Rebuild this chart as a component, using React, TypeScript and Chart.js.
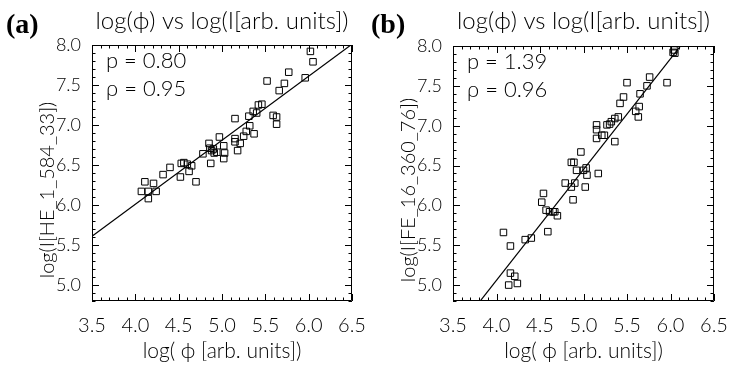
import React, { useEffect, useRef } from "react";
import { Chart, registerables } from "chart.js";

Chart.register(...registerables);

// ---- axes ----
const xRange = [3.5, 6.5];
const yRange = [4.8, 8.0];
const xTickLabels = [3.5, 4.0, 4.5, 5.0, 5.5, 6.0, 6.5];
const yTickLabels = [5.0, 5.5, 6.0, 6.5, 7.0, 7.5, 8.0];

// ---- panel (a): HE_1_584_33 ----
const heX = [4.07, 4.11, 4.15, 4.15, 4.21, 4.24, 4.32, 4.40, 4.52, 4.53, 4.56, 4.60, 4.62, 4.65, 4.70, 4.78, 4.85, 4.86, 4.87, 4.88, 4.90, 4.91, 4.94, 4.97, 5.02, 5.03, 5.02, 5.15, 5.15, 5.18, 5.21, 5.25, 5.28, 5.31, 5.32, 5.37, 5.15, 5.36, 5.40, 5.42, 5.46, 5.52, 5.59, 5.63, 5.63, 5.66, 5.72, 5.77, 5.96, 6.02, 6.05];
const heY = [6.17, 6.29, 6.17, 6.08, 6.27, 6.17, 6.38, 6.47, 6.35, 6.52, 6.53, 6.51, 6.42, 6.49, 6.29, 6.64, 6.77, 6.71, 6.52, 6.68, 6.70, 6.65, 6.66, 6.85, 6.74, 6.65, 6.58, 6.83, 6.79, 6.68, 6.77, 6.86, 6.92, 7.11, 6.99, 6.89, 7.08, 7.17, 7.15, 7.25, 7.26, 7.55, 7.12, 7.10, 7.01, 7.43, 7.52, 7.66, 7.59, 7.92, 7.79];
const heSlope = 0.80;
const heIntercept = 2.81;
const heP = "0.80";
const heRho = "0.95";

// ---- panel (b): FE_16_360_76 ----
const feX = [4.08, 4.16, 4.16, 4.21, 4.14, 4.24, 4.33, 4.40, 4.52, 4.54, 4.57, 4.61, 4.65, 4.67, 4.70, 4.59, 4.79, 4.86, 4.88, 4.90, 5.02, 4.86, 4.89, 4.92, 5.00, 5.03, 5.04, 5.17, 4.97, 5.15, 5.15, 5.15, 5.21, 5.24, 5.27, 5.30, 5.32, 5.36, 5.40, 5.36, 5.42, 5.46, 5.50, 5.60, 5.63, 5.64, 5.65, 5.73, 5.76, 5.96, 6.03, 6.05, 6.04];
const feY = [5.66, 5.49, 5.15, 5.11, 5.00, 5.02, 5.57, 5.59, 6.04, 6.15, 5.94, 5.92, 5.92, 5.92, 5.87, 5.67, 6.28, 6.23, 6.07, 6.28, 6.23, 6.54, 6.54, 6.44, 6.44, 6.47, 6.38, 6.40, 6.67, 7.01, 6.95, 6.84, 6.88, 6.88, 7.01, 7.02, 7.05, 7.09, 7.11, 6.80, 7.28, 7.36, 7.54, 7.18, 7.11, 7.24, 7.40, 7.50, 7.61, 7.54, 7.92, 7.91, 7.95];
const feSlope = 1.39;
const feIntercept = -0.50;
const feP = "1.39";
const feRho = "0.96";

const FONT = "Lato, 'DejaVu Sans', sans-serif";

type PanelProps = {
  left: number;
  width: number;
  label: string;
  yTitle: string;
  xs: number[];
  ys: number[];
  slope: number;
  intercept: number;
  pText: string;
  rhoText: string;
  areaLeft: number;
  areaRight: number;
  areaTop: number;
  areaBottom: number;
  yTitleX: number;
};

function Panel(props: PanelProps) {
  const ref = useRef<HTMLCanvasElement | null>(null);
  useEffect(() => {
    const canvas = ref.current;
    if (!canvas) return;
    const H = 367;
    const deco = {
      id: "idlFrame",
      afterDatasetsDraw(chart: any) {
        const { ctx, chartArea: a, scales } = chart;
        const sx = scales.x;
        const sy = scales.y;
        ctx.save();
        ctx.strokeStyle = "#000";
        ctx.lineWidth = 1;
        ctx.beginPath();
        ctx.rect(Math.round(a.left) + 0.5, Math.round(a.top) + 0.5, Math.round(a.right - a.left) - 1, Math.round(a.bottom - a.top) - 1);
        ctx.stroke();
        ctx.beginPath();
        for (let k = Math.round(xRange[0] * 10); k <= Math.round(xRange[1] * 10); k++) {
          const px = Math.round(sx.getPixelForValue(k / 10)) + 0.5;
          const len = k % 5 === 0 ? 7 : 3.5;
          ctx.moveTo(px, a.bottom);
          ctx.lineTo(px, a.bottom - len);
          ctx.moveTo(px, a.top);
          ctx.lineTo(px, a.top + len);
        }
        for (let k = Math.round(yRange[0] * 10); k <= Math.round(yRange[1] * 10); k++) {
          const py = Math.round(sy.getPixelForValue(k / 10)) + 0.5;
          const len = k % 5 === 0 ? 7 : 3.5;
          ctx.moveTo(a.left, py);
          ctx.lineTo(a.left + len, py);
          ctx.moveTo(a.right, py);
          ctx.lineTo(a.right - len, py);
        }
        ctx.stroke();
        ctx.fillStyle = "#000";
        // panel label
        ctx.font = "bold 28px 'Liberation Serif', 'Times New Roman', serif";
        ctx.textAlign = "left";
        ctx.textBaseline = "alphabetic";
        ctx.fillText(props.label, 6, 33);
        // title
        ctx.font = `300 24px ${FONT}`;
        ctx.textAlign = "center";
        ctx.fillText("log(\u03D5) vs log(I[arb. units])", (a.left + a.right) / 2, 29);
        // annotation
        ctx.font = `300 22px ${FONT}`;
        ctx.textAlign = "left";
        ctx.fillText("p = " + props.pText, a.left + 14, a.top + 23);
        ctx.fillText("\u03C1 = " + props.rhoText, a.left + 14, a.top + 51);
        // y-axis title
        ctx.save();
        ctx.translate(props.yTitleX, 190);
        ctx.rotate(-Math.PI / 2);
        ctx.font = `300 20px ${FONT}`;
        ctx.textAlign = "center";
        ctx.textBaseline = "middle";
        ctx.fillText(props.yTitle, 0, 0);
        ctx.restore();
        ctx.restore();
      },
    };
    const chart = new Chart(canvas, {
      type: "scatter",
      data: {
        datasets: [
          {
            type: "scatter",
            data: props.xs.map((x, i) => ({ x, y: props.ys[i] })),
            pointStyle: "rect",
            pointRadius: 4.6,
            borderColor: "#000",
            borderWidth: 1,
            backgroundColor: "rgba(0,0,0,0)",
          },
          {
            type: "line",
            data: xRange.map((x) => ({ x, y: props.intercept + props.slope * x })),
            borderColor: "#000",
            borderWidth: 1.2,
            pointRadius: 0,
            fill: false,
            tension: 0,
          },
        ],
      } as any,
      options: {
        responsive: false,
        animation: false,
        events: [],
        layout: {
          padding: { left: 0, top: props.areaTop, right: props.width - props.areaRight, bottom: 0 },
        },
        plugins: { legend: { display: false }, tooltip: { enabled: false }, title: { display: false } },
        scales: {
          x: {
            type: "linear",
            min: xRange[0],
            max: xRange[1],
            grid: { display: false },
            border: { display: false },
            afterBuildTicks: (s: any) => {
              s.ticks = xTickLabels.map((v) => ({ value: v }));
            },
            afterFit: (s: any) => {
              s.height = H - props.areaBottom;
              s.paddingLeft = 0;
              s.paddingRight = 0;
            },
            ticks: {
              color: "#000",
              padding: 5,
              maxRotation: 0,
              autoSkip: false,
              font: { family: FONT, size: 20, weight: "300" as any },
              callback: (v: any) => Number(v).toFixed(1),
            },
            title: {
              display: true,
              text: "log( \u03D5 [arb. units])",
              color: "#000",
              padding: { top: 0, bottom: 3 },
              font: { family: FONT, size: 21, weight: "300" as any },
            },
          },
          y: {
            type: "linear",
            min: yRange[0],
            max: yRange[1],
            grid: { display: false },
            border: { display: false },
            afterBuildTicks: (s: any) => {
              s.ticks = yTickLabels.map((v) => ({ value: v }));
            },
            afterFit: (s: any) => {
              s.width = props.areaLeft;
              s.paddingTop = 0;
              s.paddingBottom = 0;
            },
            ticks: {
              color: "#000",
              padding: 3,
              autoSkip: false,
              font: { family: FONT, size: 18, weight: "300" as any },
              callback: (v: any) => Number(v).toFixed(1),
            },
            title: { display: false },
          },
        },
      } as any,
      plugins: [deco],
    });
    return () => chart.destroy();
  }, []);
  return (
    <canvas
      ref={ref}
      width={props.width}
      height={367}
      style={{ position: "absolute", left: props.left, top: 0, width: props.width, height: 367 }}
    />
  );
}

export default function App() {
  return (
    <div style={{ position: "fixed", left: 0, top: 0, width: 729, height: 367, background: "#fff", overflow: "hidden" }}>
      <Panel
        left={0}
        width={365}
        label="(a)"
        yTitle="log(I[HE_1_584_33])"
        xs={heX}
        ys={heY}
        slope={heSlope}
        intercept={heIntercept}
        pText={heP}
        rhoText={heRho}
        areaLeft={92}
        areaRight={352}
        areaTop={45}
        areaBottom={301}
        yTitleX={48}
      />
      <Panel
        left={365}
        width={364}
        label="(b)"
        yTitle="log(I[FE_16_360_76])"
        xs={feX}
        ys={feY}
        slope={feSlope}
        intercept={feIntercept}
        pText={feP}
        rhoText={feRho}
        areaLeft={88}
        areaRight={349}
        areaTop={46}
        areaBottom={301}
        yTitleX={44}
      />
    </div>
  );
}
